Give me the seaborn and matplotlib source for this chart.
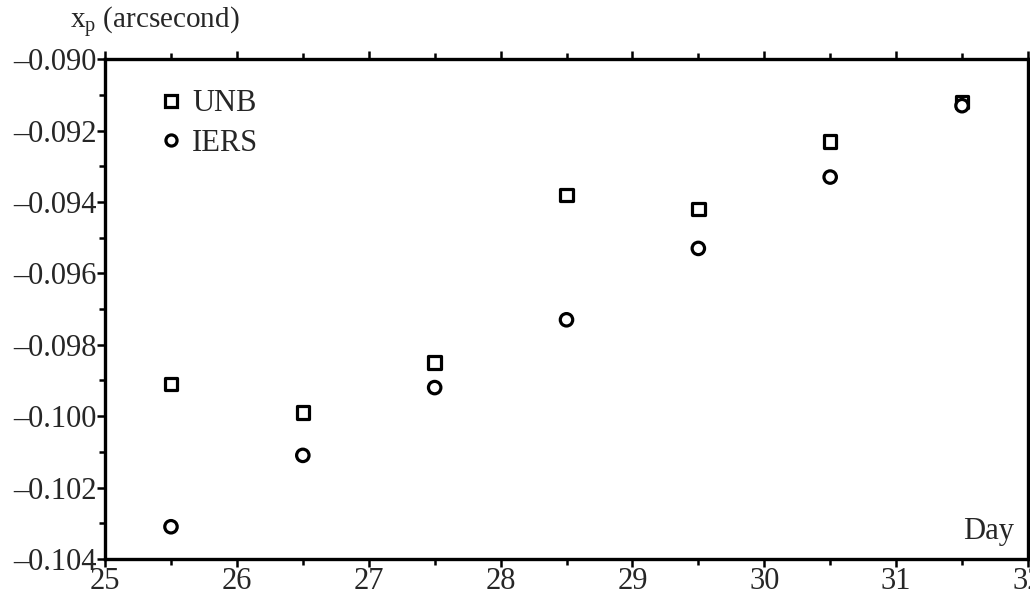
import matplotlib
matplotlib.use("Agg")
import matplotlib.pyplot as plt
import seaborn as sns
import pandas as pd
from matplotlib.ticker import MultipleLocator, FuncFormatter
from matplotlib.lines import Line2D

days = [25.5, 26.5, 27.5, 28.5, 29.5, 30.5, 31.5]
unb = [-0.0991, -0.0999, -0.0985, -0.0938, -0.0942, -0.0923, -0.0912]
iers = [-0.1031, -0.1011, -0.0992, -0.0973, -0.0953, -0.0933, -0.0913]
series_names = ["UNB", "IERS"]

sns.set_style("white")
plt.rcParams['font.family'] = ['Liberation Serif', 'DejaVu Serif']
plt.rcParams['mathtext.fontset'] = 'custom'
plt.rcParams['mathtext.rm'] = 'Liberation Serif'
plt.rcParams['mathtext.it'] = 'Liberation Serif:italic'

df = pd.DataFrame({
    "Day": days + days,
    "value": unb + iers,
    "series": [series_names[0]] * len(days) + [series_names[1]] * len(days),
})

fig = plt.figure(figsize=(10.30, 5.99), dpi=100)
ax = fig.add_axes([0.102, 0.067, 0.896, 0.834])

sns.scatterplot(data=df, x="Day", y="value", style="series",
                markers={"UNB": "s", "IERS": "o"}, ax=ax,
                facecolor="white", edgecolor="black", linewidth=2.3,
                s=80, legend=False)

ax.set_xlim(25, 32)
ax.set_ylim(-0.104, -0.090)
ax.xaxis.set_major_locator(MultipleLocator(1))
ax.xaxis.set_minor_locator(MultipleLocator(0.5))
ax.yaxis.set_major_locator(MultipleLocator(0.002))
ax.yaxis.set_minor_locator(MultipleLocator(0.001))
ax.yaxis.set_major_formatter(FuncFormatter(lambda v, p: ("\u2013%.3f" % abs(v)) if v < 0 else "%.3f" % v))
ax.xaxis.set_major_formatter(FuncFormatter(lambda v, p: "%d" % round(v)))

ax.tick_params(axis='both', which='both', direction='out', labelsize=22,
               top=True, bottom=True, left=True, right=False, labeltop=False,
               width=1.8, color='black', pad=0)
ax.tick_params(which='major', length=6)
ax.tick_params(which='minor', length=4)
for side in ["left", "bottom", "top", "right"]:
    ax.spines[side].set_visible(True)
    ax.spines[side].set_linewidth(2.4)
    ax.spines[side].set_color('black')
ax.set_xlabel("")
ax.set_ylabel("")

handles = [Line2D([], [], linestyle='none', marker='s', markersize=8, markerfacecolor='white',
                  markeredgecolor='black', markeredgewidth=2.3),
           Line2D([], [], linestyle='none', marker='o', markersize=8, markerfacecolor='white',
                  markeredgecolor='black', markeredgewidth=2.3)]
ax.legend(handles, series_names, loc='upper left', bbox_to_anchor=(0.025, 0.995),
          frameon=False, fontsize=22, handletextpad=0.2, labelspacing=0.35,
          handlelength=1.0)

fig.text(0.068, 0.963, r"x$_{\rm p}$ (arcsecond)", fontsize=21, ha='left', va='center')
ax.text(0.985, 0.025, "Day", transform=ax.transAxes, fontsize=22, ha='right', va='bottom')

fig.savefig("out.png", dpi=100)
